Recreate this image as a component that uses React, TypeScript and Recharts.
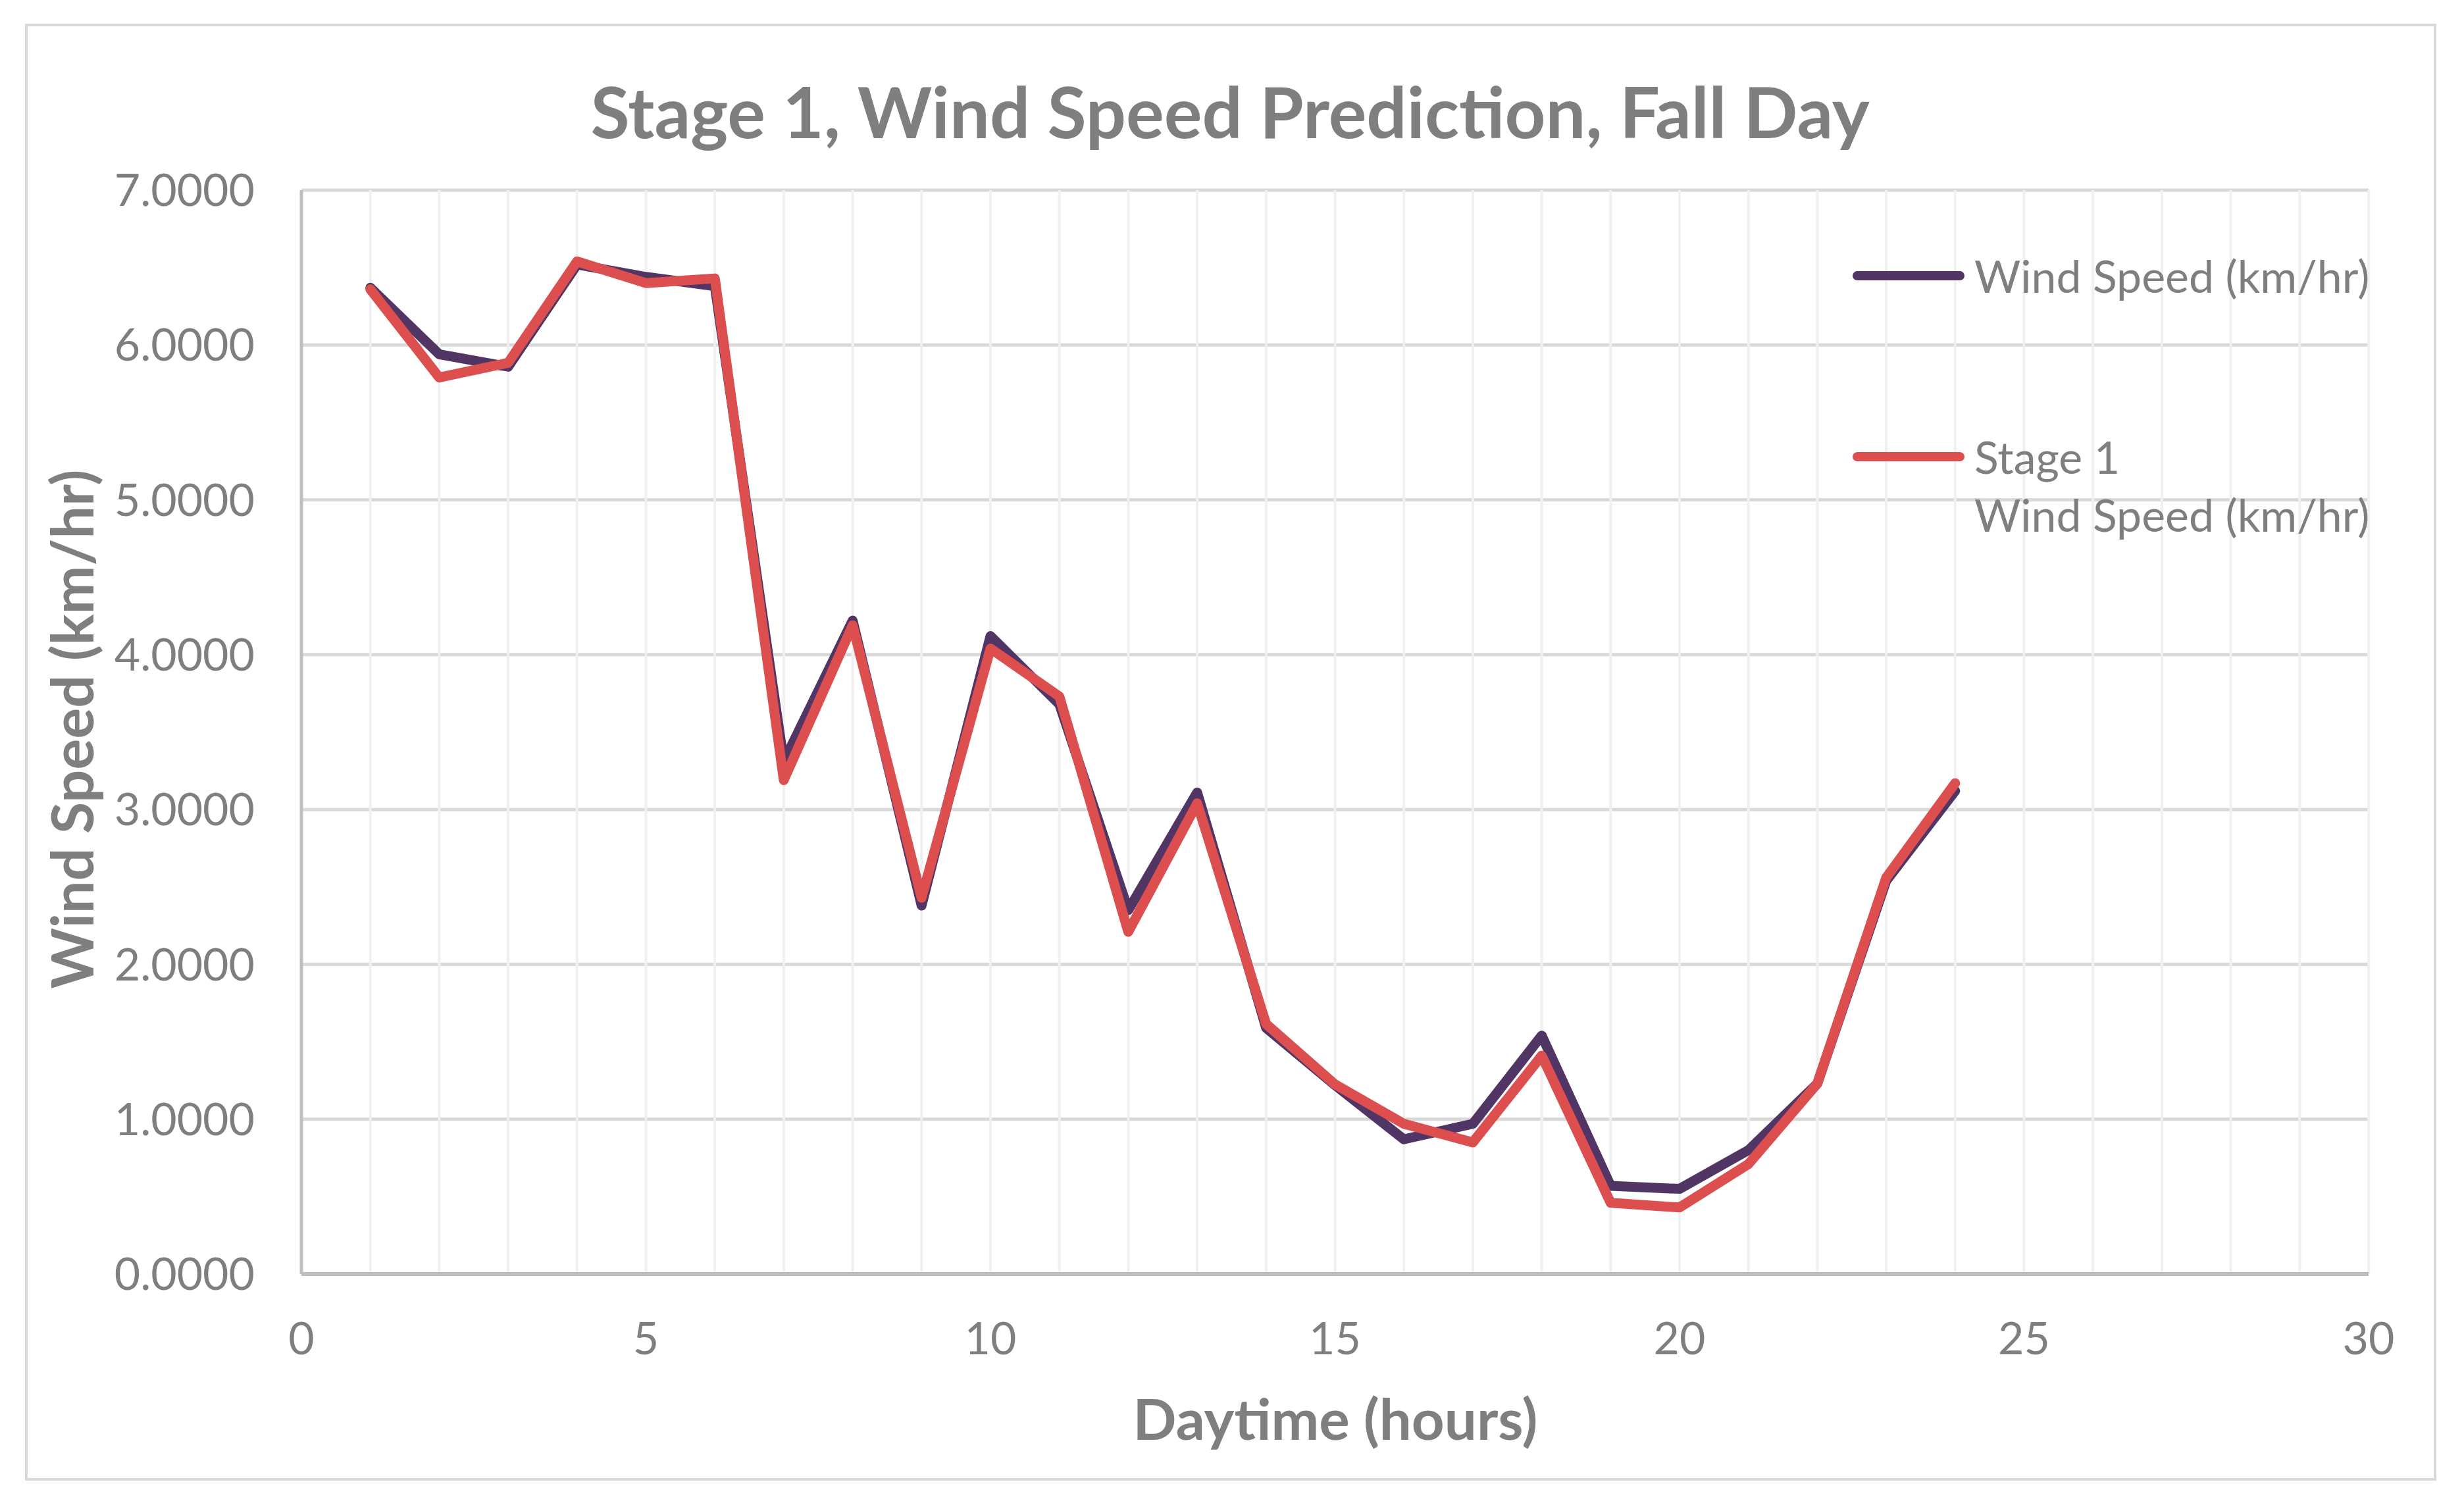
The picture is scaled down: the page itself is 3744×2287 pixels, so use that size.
import { LineChart, Line, XAxis, YAxis, CartesianGrid, Legend } from "recharts";

const hours = [1, 2, 3, 4, 5, 6, 7, 8, 9, 10, 11, 12, 13, 14, 15, 16, 17, 18, 19, 20, 21, 22, 23, 24];
const windSpeed = [6.37, 5.94, 5.86, 6.52, 6.44, 6.38, 3.31, 4.22, 2.38, 4.12, 3.68, 2.35, 3.11, 1.59, 1.22, 0.87, 0.97, 1.54, 0.57, 0.55, 0.8, 1.23, 2.54, 3.12];
const stage1 = [6.36, 5.79, 5.885, 6.54, 6.4, 6.43, 3.19, 4.19, 2.43, 4.04, 3.73, 2.21, 3.04, 1.615, 1.225, 0.97, 0.85, 1.41, 0.46, 0.43, 0.71, 1.23, 2.56, 3.17];

const xTicks = [0, 5, 10, 15, 20, 25, 30];
const xGrid = [0, 1, 2, 3, 4, 5, 6, 7, 8, 9, 10, 11, 12, 13, 14, 15, 16, 17, 18, 19, 20, 21, 22, 23, 24, 25, 26, 27, 28, 29, 30];
const yTicks = [0, 1, 2, 3, 4, 5, 6, 7];
const seriesOrder = ["wind", "stage1"];

const PURPLE = "#513565";
const RED = "#dd4f4f";
const TEXT = "#7f7f7f";
const FONT = "Lato, 'Open Sans', sans-serif";

const W = 3744;
const H = 2287;

const data = hours.map((h, i) => ({ hour: h, wind: windSpeed[i], stage1: stage1[i] }));

// eslint-disable-next-line @typescript-eslint/no-explicit-any
function LegendContent({ payload }: any) {
    if (!payload?.length) return null;
    const items = [...payload].sort(
        // eslint-disable-next-line @typescript-eslint/no-explicit-any
        (a: any, b: any) => seriesOrder.indexOf(a.dataKey) - seriesOrder.indexOf(b.dataKey)
    );
    return (
        <div style={{ fontFamily: FONT, fontSize: 68, color: TEXT, textAlign: "left" }}>
            {/* eslint-disable-next-line @typescript-eslint/no-explicit-any */}
            {items.map((entry: any, idx: number) => (
                <div
                    key={idx}
                    style={{ display: "flex", alignItems: "flex-start", marginTop: idx === 0 ? 0 : 187 }}
                >
                    <svg width={172} height={16} style={{ marginTop: 36, flexShrink: 0 }}>
                        <line x1={8} y1={8} x2={164} y2={8} stroke={entry.color} strokeWidth={14} strokeLinecap="round" />
                    </svg>
                    <div style={{ marginLeft: 14, lineHeight: "88px", whiteSpace: "pre-line" }}>{entry.value}</div>
                </div>
            ))}
        </div>
    );
}

export default function App() {
    return (
        <div style={{ position: "absolute", left: 0, top: 0, width: W, height: H, background: "#fff", fontFamily: FONT }}>
            <LineChart
                width={W}
                height={H}
                data={data}
                margin={{ top: 289, right: 145, left: 338, bottom: 251 }}
            >
                <CartesianGrid
                    vertical={false}
                    stroke="#d9d9d9"
                    strokeWidth={5}
                />
                <CartesianGrid
                    horizontal={false}
                    stroke="#f0f0f0"
                    strokeWidth={4}
                    // eslint-disable-next-line @typescript-eslint/no-explicit-any
                    verticalCoordinatesGenerator={({ offset }: any) =>
                        xGrid.map((h) => offset.left + (offset.width * h) / 30)
                    }
                />
                <XAxis
                    dataKey="hour"
                    type="number"
                    domain={[0, 30]}
                    ticks={xTicks}
                    height={100}
                    tickLine={false}
                    tickMargin={68}
                    axisLine={{ stroke: "#bfbfbf", strokeWidth: 6 }}
                    tick={{ fill: TEXT, fontSize: 68, fontFamily: FONT }}
                />
                <YAxis
                    type="number"
                    domain={[0, 7]}
                    ticks={yTicks}
                    width={120}
                    tickLine={false}
                    tickMargin={65}
                    tickFormatter={(v: number) => v.toFixed(4)}
                    axisLine={{ stroke: "#bfbfbf", strokeWidth: 5 }}
                    tick={{ fill: TEXT, fontSize: 68, fontFamily: FONT }}
                />
                <Legend
                    layout="horizontal"
                    verticalAlign="middle"
                    align="center"
                    content={<LegendContent />}
                    wrapperStyle={{ left: 2814, top: 375, width: 900 }}
                />
                <Line
                    type="linear"
                    dataKey="wind"
                    name="Wind Speed (km/hr)"
                    stroke={PURPLE}
                    strokeWidth={15}
                    strokeLinecap="round"
                    strokeLinejoin="round"
                    dot={false}
                    activeDot={false}
                    isAnimationActive={false}
                />
                <Line
                    type="linear"
                    dataKey="stage1"
                    name={"Stage 1\nWind Speed (km/hr)"}
                    stroke={RED}
                    strokeWidth={15}
                    strokeLinecap="round"
                    strokeLinejoin="round"
                    dot={false}
                    activeDot={false}
                    isAnimationActive={false}
                />
            </LineChart>
            <svg
                width={W}
                height={H}
                style={{ position: "absolute", left: 0, top: 0, pointerEvents: "none" }}
            >
                <rect x={40} y={38} width={3660} height={2210} fill="none" stroke="#d9d9d9" strokeWidth={4} />
                <text x={1869} y={210} textAnchor="middle" fill={TEXT} fontSize={108} fontWeight={700} fontFamily={FONT}>
                    Stage 1, Wind Speed Prediction, Fall Day
                </text>
                <text x={2029} y={2188} textAnchor="middle" fill={TEXT} fontSize={87} fontWeight={700} fontFamily={FONT}>
                    Daytime (hours)
                </text>
                <text
                    x={0}
                    y={0}
                    transform="translate(142, 1108) rotate(-90)"
                    textAnchor="middle"
                    fill={TEXT}
                    fontSize={88}
                    fontWeight={700}
                    fontFamily={FONT}
                >
                    Wind Speed (km/hr)
                </text>
            </svg>
        </div>
    );
}
